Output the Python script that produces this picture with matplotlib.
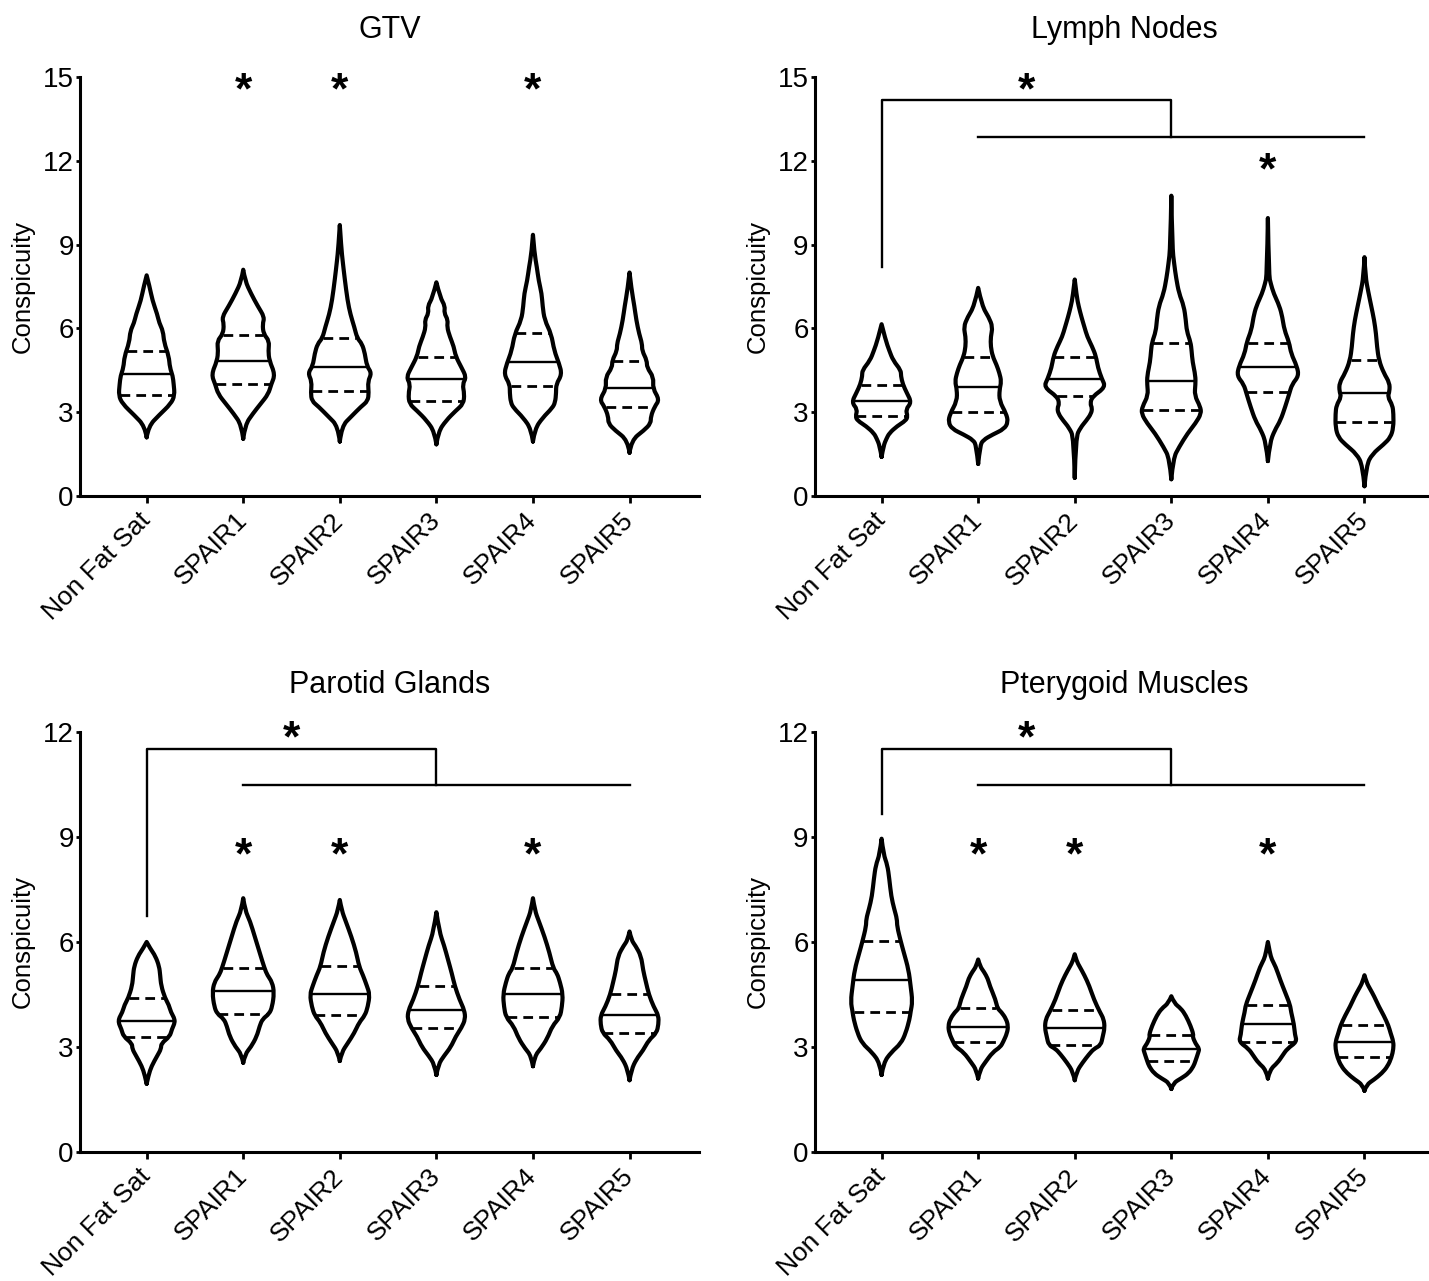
import numpy as np
import matplotlib.pyplot as plt
from matplotlib.path import Path
from matplotlib.patches import PathPatch

plt.rcParams["font.family"] = ["Liberation Sans", "DejaVu Sans"]

groups = ["Non Fat Sat", "SPAIR1", "SPAIR2", "SPAIR3", "SPAIR4", "SPAIR5"]

# violin outlines: (conspicuity, half width) from bottom tail to top tail
gtv_shapes = [
    [(2.1, 0), (2.5, 0.02), (2.9, 0.13), (3.3, 0.25), (3.6, 0.29), (4.0, 0.28), (4.3, 0.27), (4.6, 0.24),
     (5.0, 0.23), (5.5, 0.18), (5.9, 0.17), (6.2, 0.13), (6.5, 0.11), (7.0, 0.06), (7.5, 0.03), (7.9, 0)],
    [(2.05, 0), (2.55, 0.02), (2.95, 0.1), (3.3, 0.18), (3.65, 0.26), (4.0, 0.29), (4.35, 0.33), (4.85, 0.27),
     (5.2, 0.26), (5.55, 0.27), (5.8, 0.21), (6.15, 0.2), (6.4, 0.22), (6.8, 0.15), (7.25, 0.08), (7.7, 0.02), (8.1, 0)],
    [(1.95, 0), (2.5, 0.02), (2.85, 0.12), (3.2, 0.22), (3.4, 0.29), (3.7, 0.3), (4.1, 0.29), (4.4, 0.33),
     (4.65, 0.28), (5.1, 0.26), (5.45, 0.23), (5.65, 0.18), (6.05, 0.15), (6.5, 0.11), (7.0, 0.08), (7.8, 0.05),
     (8.4, 0.03), (8.9, 0.015), (9.7, 0)],
    [(1.85, 0), (2.3, 0.02), (2.7, 0.1), (3.05, 0.2), (3.3, 0.28), (3.65, 0.29), (4.0, 0.27), (4.25, 0.31),
     (4.6, 0.26), (5.0, 0.2), (5.35, 0.18), (5.7, 0.14), (6.05, 0.11), (6.3, 0.12), (6.55, 0.08), (6.8, 0.09),
     (7.1, 0.04), (7.65, 0)],
    [(1.95, 0), (2.4, 0.02), (2.8, 0.1), (3.15, 0.2), (3.35, 0.23), (3.7, 0.24), (4.0, 0.24), (4.35, 0.3),
     (4.75, 0.27), (5.2, 0.22), (5.8, 0.19), (6.3, 0.12), (6.8, 0.1), (7.25, 0.09), (7.7, 0.06), (8.2, 0.04),
     (8.7, 0.015), (9.35, 0)],
    [(1.55, 0), (2.0, 0.02), (2.35, 0.15), (2.6, 0.22), (2.85, 0.22), (3.2, 0.26), (3.45, 0.31), (3.85, 0.24),
     (4.25, 0.25), (4.6, 0.18), (4.85, 0.18), (5.2, 0.13), (5.45, 0.13), (5.8, 0.1), (6.3, 0.07), (6.8, 0.05),
     (7.4, 0.02), (8.0, 0)],
]
gtv_median = [4.35, 4.85, 4.62, 4.2, 4.8, 3.85]
gtv_q1 = [3.62, 4.0, 3.75, 3.4, 3.95, 3.18]
gtv_q3 = [5.2, 5.78, 5.65, 4.98, 5.83, 4.85]

lymph_shapes = [
    [(1.4, 0), (1.8, 0.02), (2.05, 0.05), (2.25, 0.08), (2.5, 0.16), (2.7, 0.25), (2.85, 0.27), (3.1, 0.25),
     (3.35, 0.31), (3.7, 0.26), (4.0, 0.22), (4.3, 0.2), (4.5, 0.2), (4.85, 0.12), (5.2, 0.08), (5.6, 0.04), (6.15, 0)],
    [(1.15, 0), (1.8, 0.02), (2.0, 0.05), (2.2, 0.15), (2.4, 0.27), (2.65, 0.31), (2.95, 0.29), (3.4, 0.22),
     (3.8, 0.22), (4.1, 0.24), (4.4, 0.22), (4.7, 0.19), (5.0, 0.15), (5.35, 0.13), (5.7, 0.13), (6.05, 0.15),
     (6.4, 0.11), (6.8, 0.04), (7.45, 0)],
    [(0.65, 0), (2.1, 0.01), (2.45, 0.06), (2.7, 0.12), (2.95, 0.17), (3.15, 0.18), (3.3, 0.16), (3.55, 0.18),
     (3.9, 0.32), (4.2, 0.28), (4.6, 0.24), (5.0, 0.22), (5.35, 0.18), (5.7, 0.13), (6.05, 0.1), (6.4, 0.07),
     (6.8, 0.04), (7.15, 0.02), (7.75, 0)],
    [(0.6, 0), (1.35, 0.02), (1.75, 0.08), (2.25, 0.17), (2.6, 0.25), (2.95, 0.31), (3.2, 0.3), (3.6, 0.24),
     (4.0, 0.25), (4.3, 0.25), (4.8, 0.22), (5.2, 0.21), (5.5, 0.2), (5.9, 0.16), (6.3, 0.15), (6.8, 0.13),
     (7.25, 0.08), (7.8, 0.05), (8.3, 0.03), (8.9, 0.01), (10.75, 0)],
    [(1.25, 0), (1.9, 0.02), (2.35, 0.07), (2.7, 0.13), (3.2, 0.18), (3.65, 0.22), (4.0, 0.25), (4.3, 0.32),
     (4.65, 0.3), (5.1, 0.24), (5.5, 0.22), (5.95, 0.17), (6.4, 0.15), (6.8, 0.12), (7.25, 0.06), (7.6, 0.03),
     (7.9, 0.01), (9.95, 0)],
    [(0.35, 0), (1.1, 0.02), (1.5, 0.08), (1.85, 0.2), (2.1, 0.27), (2.45, 0.3), (2.95, 0.3), (3.25, 0.29),
     (3.55, 0.24), (3.75, 0.26), (4.05, 0.26), (4.4, 0.2), (4.85, 0.15), (5.35, 0.13), (5.8, 0.12), (6.3, 0.1),
     (6.8, 0.07), (7.3, 0.04), (7.85, 0.01), (8.55, 0)],
]
lymph_median = [3.4, 3.9, 4.2, 4.13, 4.63, 3.7]
lymph_q1 = [2.85, 3.02, 3.58, 3.08, 3.73, 2.66]
lymph_q3 = [3.97, 4.98, 4.96, 5.48, 5.48, 4.87]

parotid_shapes = [
    [(1.95, 0), (2.2, 0.02), (2.45, 0.05), (2.75, 0.11), (2.95, 0.15), (3.1, 0.15), (3.3, 0.24), (3.5, 0.26),
     (3.75, 0.3), (4.0, 0.25), (4.2, 0.23), (4.4, 0.19), (4.75, 0.15), (5.05, 0.14), (5.3, 0.13), (5.6, 0.09),
     (5.8, 0.04), (6.0, 0)],
    [(2.55, 0), (2.8, 0.02), (3.0, 0.08), (3.3, 0.14), (3.6, 0.17), (3.8, 0.2), (3.95, 0.27), (4.15, 0.3),
     (4.55, 0.32), (4.85, 0.3), (5.05, 0.25), (5.25, 0.22), (5.7, 0.17), (6.15, 0.12), (6.6, 0.07), (6.9, 0.02), (7.25, 0)],
    [(2.6, 0), (2.85, 0.02), (3.1, 0.08), (3.4, 0.15), (3.7, 0.2), (3.9, 0.26), (4.15, 0.29), (4.5, 0.31),
     (4.75, 0.28), (5.05, 0.24), (5.3, 0.2), (5.7, 0.17), (6.15, 0.12), (6.6, 0.06), (6.9, 0.02), (7.2, 0)],
    [(2.2, 0), (2.5, 0.02), (2.75, 0.08), (3.0, 0.15), (3.3, 0.2), (3.55, 0.26), (3.8, 0.3), (4.05, 0.29),
     (4.35, 0.24), (4.75, 0.19), (5.1, 0.16), (5.5, 0.12), (5.9, 0.08), (6.3, 0.03), (6.85, 0)],
    [(2.45, 0), (2.75, 0.02), (2.95, 0.08), (3.25, 0.15), (3.6, 0.2), (3.85, 0.28), (4.15, 0.3), (4.5, 0.31),
     (4.85, 0.28), (5.1, 0.25), (5.25, 0.21), (5.7, 0.17), (6.15, 0.12), (6.6, 0.06), (6.9, 0.02), (7.25, 0)],
    [(2.05, 0), (2.35, 0.02), (2.65, 0.07), (2.9, 0.14), (3.2, 0.2), (3.4, 0.28), (3.65, 0.3), (3.9, 0.3),
     (4.15, 0.25), (4.5, 0.2), (4.85, 0.17), (5.2, 0.14), (5.6, 0.12), (5.9, 0.06), (6.05, 0.02), (6.3, 0)],
]
parotid_median = [3.75, 4.59, 4.5, 4.06, 4.5, 3.9]
parotid_q1 = [3.28, 3.95, 3.92, 3.54, 3.87, 3.4]
parotid_q3 = [4.39, 5.26, 5.3, 4.73, 5.26, 4.51]

ptery_shapes = [
    [(2.2, 0), (2.55, 0.02), (2.85, 0.1), (3.1, 0.2), (3.4, 0.25), (3.8, 0.29), (4.0, 0.3), (4.3, 0.32),
     (4.75, 0.3), (5.2, 0.28), (5.7, 0.23), (6.0, 0.2), (6.45, 0.16), (6.65, 0.16), (6.95, 0.13), (7.3, 0.1),
     (7.8, 0.08), (8.2, 0.06), (8.5, 0.02), (8.95, 0)],
    [(2.1, 0), (2.35, 0.02), (2.55, 0.07), (2.85, 0.15), (3.0, 0.23), (3.15, 0.26), (3.4, 0.3), (3.6, 0.31),
     (3.8, 0.29), (4.0, 0.24), (4.1, 0.2), (4.35, 0.18), (4.75, 0.12), (4.95, 0.1), (5.15, 0.06), (5.3, 0.02), (5.5, 0)],
    [(2.05, 0), (2.3, 0.02), (2.55, 0.08), (2.8, 0.15), (2.95, 0.2), (3.05, 0.27), (3.3, 0.29), (3.55, 0.31),
     (3.8, 0.3), (4.0, 0.26), (4.35, 0.2), (4.75, 0.15), (5.05, 0.1), (5.3, 0.05), (5.45, 0.02), (5.65, 0)],
    [(1.8, 0), (1.97, 0.02), (2.1, 0.1), (2.25, 0.18), (2.45, 0.23), (2.6, 0.25), (2.85, 0.28), (2.95, 0.29),
     (3.1, 0.25), (3.3, 0.22), (3.35, 0.23), (3.6, 0.2), (3.9, 0.15), (4.1, 0.1), (4.25, 0.03), (4.45, 0)],
    [(2.1, 0), (2.35, 0.02), (2.55, 0.1), (2.75, 0.15), (2.95, 0.2), (3.15, 0.3), (3.35, 0.28), (3.65, 0.27),
     (4.0, 0.24), (4.2, 0.23), (4.55, 0.18), (4.9, 0.13), (5.3, 0.08), (5.5, 0.04), (5.7, 0.02), (6.0, 0)],
    [(1.75, 0), (1.92, 0.02), (2.07, 0.1), (2.25, 0.18), (2.45, 0.24), (2.7, 0.28), (2.95, 0.3), (3.15, 0.3),
     (3.4, 0.27), (3.6, 0.25), (3.9, 0.2), (4.15, 0.15), (4.45, 0.1), (4.65, 0.06), (4.85, 0.02), (5.05, 0)],
]
ptery_median = [4.9, 3.57, 3.55, 2.94, 3.67, 3.14]
ptery_q1 = [4.0, 3.14, 3.05, 2.59, 3.14, 2.71]
ptery_q3 = [6.02, 4.11, 4.07, 3.35, 4.2, 3.62]

# significance marks: (x position, y)
gtv_stars = [(1, 14.64), (2, 14.64), (4, 14.64)]
lymph_stars = [(1.5, 14.64), (4, 11.78)]
parotid_stars = [(1.5, 11.92), (1, 8.59), (2, 8.59), (4, 8.59)]
ptery_stars = [(1.5, 11.92), (1, 8.59), (2, 8.59), (4, 8.59)]
# bracket: left leg bottom, top, lower bar
lymph_bracket = (8.2, 14.16, 12.85)
parotid_bracket = (6.75, 11.52, 10.48)
ptery_bracket = (9.67, 11.52, 10.48)


def violin_path(xc, shape):
    ys = [p[0] for p in shape]
    ws = [p[1] for p in shape]
    left = [(xc - w, y) for y, w in zip(ys, ws)]
    right = [(xc + w, y) for y, w in zip(ys[::-1], ws[::-1])]
    pts = left + right[1:]
    corner = [w == 0 for w in ws] + [w == 0 for w in ws[::-1]][1:]
    verts = [pts[0]]
    codes = [Path.MOVETO]
    for i in range(1, len(pts)):
        if corner[i]:
            verts.append(pts[i])
            codes.append(Path.LINETO)
        else:
            if corner[i + 1]:
                end = pts[i + 1]
            else:
                end = ((pts[i][0] + pts[i + 1][0]) / 2, (pts[i][1] + pts[i + 1][1]) / 2)
            verts += [pts[i], end]
            codes += [Path.CURVE3, Path.CURVE3]
    return Path(verts, codes)


def draw_panel(ax, title, shapes, med, q1, q3, ymax, stars, bracket=None):
    for i, shape in enumerate(shapes):
        ax.add_patch(PathPatch(violin_path(i, shape), fill=False, lw=3.0, ec="black",
                               joinstyle="round", capstyle="round"))
        ys = [p[0] for p in shape]
        ws = [p[1] for p in shape]
        hw = np.interp(med[i], ys, ws) - 0.01
        ax.plot([i - hw, i + hw], [med[i], med[i]], color="black", lw=1.7)
        for q in (q1[i], q3[i]):
            hw = np.interp(q, ys, ws) - 0.01
            ax.plot([i - hw, i + hw], [q, q], color="black", lw=2.0, dashes=(3.5, 2.2))
    for x, y in stars:
        ax.annotate("*", (x, y), xytext=(0, -12), textcoords="offset points",
                    ha="center", va="baseline", fontsize=32, fontweight="bold", annotation_clip=False)
    if bracket is not None:
        b0, top, low = bracket
        ax.plot([0, 0, 3, 3], [b0, top, top, low], color="black", lw=1.7, clip_on=False)
        ax.plot([1, 5], [low, low], color="black", lw=1.7, clip_on=False)
    ax.set_xlim(-0.69, 5.72)
    ax.set_ylim(0, ymax)
    ax.set_yticks(np.arange(0, ymax + 1, 3))
    ax.set_xticks(range(len(groups)))
    ax.set_xticklabels(groups, rotation=45, ha="right", va="center", rotation_mode="anchor")
    ax.spines["top"].set_visible(False)
    ax.spines["right"].set_visible(False)
    ax.spines["left"].set_linewidth(2.2)
    ax.spines["bottom"].set_linewidth(2.2)
    ax.tick_params(axis="y", length=3, width=2.0, pad=1.5, labelsize=20)
    ax.tick_params(axis="x", length=5, width=2.0, pad=10, labelsize=19)
    ax.set_ylabel("Conspicuity", fontsize=18.5, labelpad=6)
    ax.set_title(title, fontsize=22, pad=28)


fig = plt.figure(figsize=(14.29, 12.81), dpi=100)
ax1 = fig.add_axes([0.056, 0.6128, 0.4332, 0.3271])
ax2 = fig.add_axes([0.5703, 0.6128, 0.4332, 0.3271])
ax3 = fig.add_axes([0.056, 0.1007, 0.4332, 0.3279])
ax4 = fig.add_axes([0.5703, 0.1007, 0.4332, 0.3279])

draw_panel(ax1, "GTV", gtv_shapes, gtv_median, gtv_q1, gtv_q3, 15, gtv_stars)
draw_panel(ax2, "Lymph Nodes", lymph_shapes, lymph_median, lymph_q1, lymph_q3, 15, lymph_stars, lymph_bracket)
draw_panel(ax3, "Parotid Glands", parotid_shapes, parotid_median, parotid_q1, parotid_q3, 12,
           parotid_stars, parotid_bracket)
draw_panel(ax4, "Pterygoid Muscles", ptery_shapes, ptery_median, ptery_q1, ptery_q3, 12,
           ptery_stars, ptery_bracket)

fig.savefig("out.png", dpi=100)
